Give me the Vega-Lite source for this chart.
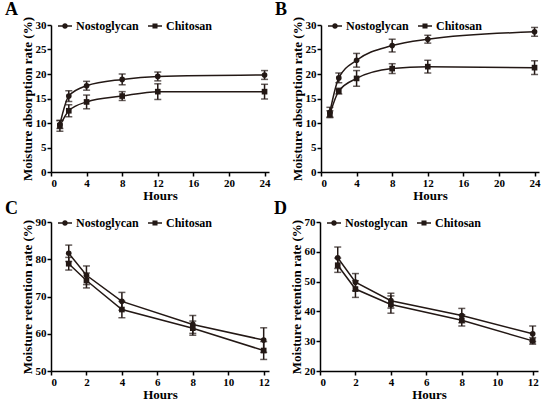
{
  "$schema": "https://vega.github.io/schema/vega-lite/v6.json",
  "background": "white",
  "padding": {"left": 4, "top": 1, "right": 2, "bottom": 2},
  "spacing": -2,
  "datasets": {
    "a": [
      {"hours": 1, "series": "Nostoglycan", "mean": 9.7, "err": 0.8},
      {"hours": 2, "series": "Nostoglycan", "mean": 15.5, "err": 1.1},
      {"hours": 4, "series": "Nostoglycan", "mean": 17.6, "err": 0.9},
      {"hours": 8, "series": "Nostoglycan", "mean": 18.9, "err": 1.1},
      {"hours": 12, "series": "Nostoglycan", "mean": 19.5, "err": 0.9},
      {"hours": 24, "series": "Nostoglycan", "mean": 19.8, "err": 0.9},
      {"hours": 1, "series": "Chitosan", "mean": 9.4, "err": 1.1},
      {"hours": 2, "series": "Chitosan", "mean": 12.5, "err": 1.2},
      {"hours": 4, "series": "Chitosan", "mean": 14.3, "err": 1.4},
      {"hours": 8, "series": "Chitosan", "mean": 15.5, "err": 0.9},
      {"hours": 12, "series": "Chitosan", "mean": 16.4, "err": 1.6},
      {"hours": 24, "series": "Chitosan", "mean": 16.4, "err": 1.5}
    ],
    "b": [
      {"hours": 1, "series": "Nostoglycan", "mean": 12.2, "err": 1.0},
      {"hours": 2, "series": "Nostoglycan", "mean": 19.2, "err": 1.0},
      {"hours": 4, "series": "Nostoglycan", "mean": 22.8, "err": 1.4},
      {"hours": 8, "series": "Nostoglycan", "mean": 25.8, "err": 1.3},
      {"hours": 12, "series": "Nostoglycan", "mean": 27.1, "err": 0.8},
      {"hours": 24, "series": "Nostoglycan", "mean": 28.6, "err": 0.9},
      {"hours": 1, "series": "Chitosan", "mean": 11.8, "err": 0.7},
      {"hours": 2, "series": "Chitosan", "mean": 16.5, "err": 0.6},
      {"hours": 4, "series": "Chitosan", "mean": 19.1, "err": 1.6},
      {"hours": 8, "series": "Chitosan", "mean": 21.1, "err": 1.0},
      {"hours": 12, "series": "Chitosan", "mean": 21.5, "err": 1.3},
      {"hours": 24, "series": "Chitosan", "mean": 21.3, "err": 1.4}
    ],
    "c": [
      {"hours": 1, "series": "Nostoglycan", "mean": 81.6, "err": 2.2},
      {"hours": 2, "series": "Nostoglycan", "mean": 75.7, "err": 2.5},
      {"hours": 4, "series": "Nostoglycan", "mean": 68.7, "err": 2.4},
      {"hours": 8, "series": "Nostoglycan", "mean": 62.5, "err": 2.4},
      {"hours": 12, "series": "Nostoglycan", "mean": 58.3, "err": 3.3},
      {"hours": 1, "series": "Chitosan", "mean": 78.8, "err": 1.7},
      {"hours": 2, "series": "Chitosan", "mean": 74.3, "err": 2.0},
      {"hours": 4, "series": "Chitosan", "mean": 66.5, "err": 2.2},
      {"hours": 8, "series": "Chitosan", "mean": 61.5, "err": 1.9},
      {"hours": 12, "series": "Chitosan", "mean": 55.5, "err": 2.4}
    ],
    "d": [
      {"hours": 1, "series": "Nostoglycan", "mean": 58.0, "err": 3.6},
      {"hours": 2, "series": "Nostoglycan", "mean": 49.8, "err": 2.9},
      {"hours": 4, "series": "Nostoglycan", "mean": 43.6, "err": 2.5},
      {"hours": 8, "series": "Nostoglycan", "mean": 38.6, "err": 2.4},
      {"hours": 12, "series": "Nostoglycan", "mean": 32.5, "err": 2.6},
      {"hours": 1, "series": "Chitosan", "mean": 55.5, "err": 2.4},
      {"hours": 2, "series": "Chitosan", "mean": 47.5, "err": 2.8},
      {"hours": 4, "series": "Chitosan", "mean": 42.3, "err": 2.9},
      {"hours": 8, "series": "Chitosan", "mean": 37.0, "err": 1.9},
      {"hours": 12, "series": "Chitosan", "mean": 30.1, "err": 1.1}
    ],
    "keys": [
      {"key": "Nostoglycan"},
      {"key": "Chitosan"}
    ]
  },
  "vconcat": [
    {
      "hconcat": [
        {
          "title": {"text": "A"},
          "width": 218,
          "height": 147,
          "data": {"name": "a"},
          "encoding": {
            "x": {"field": "hours", "type": "quantitative", "title": "Hours",
                  "scale": {"domain": [0, 24.5], "nice": false},
                  "axis": {"values": [0, 4, 8, 12, 16, 20, 24]}},
            "y": {"field": "mean", "type": "quantitative", "title": "Moisture absorption rate (%)",
                  "scale": {"domain": [0, 30], "nice": false},
                  "axis": {"values": [0, 5, 10, 15, 20, 25, 30]}}
          },
          "layer": [
            {"mark": {"type": "errorbar", "color": "#231815", "thickness": 1.5, "ticks": {"size": 7, "thickness": 1.5}},
             "encoding": {"yError": {"field": "err"}, "detail": {"field": "series"}}},
            {"mark": {"type": "line", "interpolate": "monotone", "color": "#231815", "strokeWidth": 1.5},
             "encoding": {"detail": {"field": "series"}}},
            {"mark": {"type": "point", "filled": true, "opacity": 1, "color": "#231815", "size": 32},
             "encoding": {"shape": {"field": "series", "scale": {"domain": ["Nostoglycan", "Chitosan"], "range": ["circle", "square"]}, "legend": null}}},
            {"data": {"name": "keys"},
             "mark": {"type": "point", "filled": true, "opacity": 1, "size": 0, "color": "#231815"},
             "encoding": {"x": null, "y": null,
                          "shape": {"field": "key", "scale": {"domain": ["Nostoglycan", "Chitosan"], "range": ["M-1,-0.09H1V0.09H-1ZM0.4,0A0.4,0.4,0,1,1,-0.4,0A0.4,0.4,0,1,1,0.4,0Z", "M-1,-0.09H1V0.09H-1ZM-0.36,-0.36H0.36V0.36H-0.36Z"]}}}}
          ],
          "resolve": {"scale": {"shape": "independent"}}
        },
        {
          "title": {"text": "B"},
          "width": 218,
          "height": 147,
          "data": {"name": "b"},
          "encoding": {
            "x": {"field": "hours", "type": "quantitative", "title": "Hours",
                  "scale": {"domain": [0, 24.5], "nice": false},
                  "axis": {"values": [0, 4, 8, 12, 16, 20, 24]}},
            "y": {"field": "mean", "type": "quantitative", "title": "Moisture absorption rate (%)",
                  "scale": {"domain": [0, 30], "nice": false},
                  "axis": {"values": [0, 5, 10, 15, 20, 25, 30]}}
          },
          "layer": [
            {"mark": {"type": "errorbar", "color": "#231815", "thickness": 1.5, "ticks": {"size": 7, "thickness": 1.5}},
             "encoding": {"yError": {"field": "err"}, "detail": {"field": "series"}}},
            {"mark": {"type": "line", "interpolate": "monotone", "color": "#231815", "strokeWidth": 1.5},
             "encoding": {"detail": {"field": "series"}}},
            {"mark": {"type": "point", "filled": true, "opacity": 1, "color": "#231815", "size": 32},
             "encoding": {"shape": {"field": "series", "scale": {"domain": ["Nostoglycan", "Chitosan"], "range": ["circle", "square"]}, "legend": null}}},
            {"data": {"name": "keys"},
             "mark": {"type": "point", "filled": true, "opacity": 1, "size": 0, "color": "#231815"},
             "encoding": {"x": null, "y": null,
                          "shape": {"field": "key", "scale": {"domain": ["Nostoglycan", "Chitosan"], "range": ["M-1,-0.09H1V0.09H-1ZM0.4,0A0.4,0.4,0,1,1,-0.4,0A0.4,0.4,0,1,1,0.4,0Z", "M-1,-0.09H1V0.09H-1ZM-0.36,-0.36H0.36V0.36H-0.36Z"]}}}}
          ],
          "resolve": {"scale": {"shape": "independent"}}
        }
      ]
    },
    {
      "hconcat": [
        {
          "title": {"text": "C"},
          "width": 218,
          "height": 149,
          "data": {"name": "c"},
          "encoding": {
            "x": {"field": "hours", "type": "quantitative", "title": "Hours",
                  "scale": {"domain": [0, 12.3], "nice": false},
                  "axis": {"values": [0, 2, 4, 6, 8, 10, 12]}},
            "y": {"field": "mean", "type": "quantitative", "title": "Moisture retention rate (%)",
                  "scale": {"domain": [50, 90], "nice": false, "zero": false},
                  "axis": {"values": [50, 60, 70, 80, 90]}}
          },
          "layer": [
            {"mark": {"type": "errorbar", "color": "#231815", "thickness": 1.5, "ticks": {"size": 7, "thickness": 1.5}},
             "encoding": {"yError": {"field": "err"}, "detail": {"field": "series"}}},
            {"mark": {"type": "line", "color": "#231815", "strokeWidth": 1.5},
             "encoding": {"detail": {"field": "series"}}},
            {"mark": {"type": "point", "filled": true, "opacity": 1, "color": "#231815", "size": 32},
             "encoding": {"shape": {"field": "series", "scale": {"domain": ["Nostoglycan", "Chitosan"], "range": ["circle", "square"]}, "legend": null}}},
            {"data": {"name": "keys"},
             "mark": {"type": "point", "filled": true, "opacity": 1, "size": 0, "color": "#231815"},
             "encoding": {"x": null, "y": null,
                          "shape": {"field": "key", "scale": {"domain": ["Nostoglycan", "Chitosan"], "range": ["M-1,-0.09H1V0.09H-1ZM0.4,0A0.4,0.4,0,1,1,-0.4,0A0.4,0.4,0,1,1,0.4,0Z", "M-1,-0.09H1V0.09H-1ZM-0.36,-0.36H0.36V0.36H-0.36Z"]}}}}
          ],
          "resolve": {"scale": {"shape": "independent"}}
        },
        {
          "title": {"text": "D"},
          "width": 218,
          "height": 149,
          "data": {"name": "d"},
          "encoding": {
            "x": {"field": "hours", "type": "quantitative", "title": "Hours",
                  "scale": {"domain": [0, 12.3], "nice": false},
                  "axis": {"values": [0, 2, 4, 6, 8, 10, 12]}},
            "y": {"field": "mean", "type": "quantitative", "title": "Moisture retention rate (%)",
                  "scale": {"domain": [20, 70], "nice": false, "zero": false},
                  "axis": {"values": [20, 30, 40, 50, 60, 70]}}
          },
          "layer": [
            {"mark": {"type": "errorbar", "color": "#231815", "thickness": 1.5, "ticks": {"size": 7, "thickness": 1.5}},
             "encoding": {"yError": {"field": "err"}, "detail": {"field": "series"}}},
            {"mark": {"type": "line", "color": "#231815", "strokeWidth": 1.5},
             "encoding": {"detail": {"field": "series"}}},
            {"mark": {"type": "point", "filled": true, "opacity": 1, "color": "#231815", "size": 32},
             "encoding": {"shape": {"field": "series", "scale": {"domain": ["Nostoglycan", "Chitosan"], "range": ["circle", "square"]}, "legend": null}}},
            {"data": {"name": "keys"},
             "mark": {"type": "point", "filled": true, "opacity": 1, "size": 0, "color": "#231815"},
             "encoding": {"x": null, "y": null,
                          "shape": {"field": "key", "scale": {"domain": ["Nostoglycan", "Chitosan"], "range": ["M-1,-0.09H1V0.09H-1ZM0.4,0A0.4,0.4,0,1,1,-0.4,0A0.4,0.4,0,1,1,0.4,0Z", "M-1,-0.09H1V0.09H-1ZM-0.36,-0.36H0.36V0.36H-0.36Z"]}}}}
          ],
          "resolve": {"scale": {"shape": "independent"}}
        }
      ]
    }
  ],
  "config": {
    "font": "Liberation Serif",
    "view": {"stroke": null},
    "concat": {"spacing": 3},
    "title": {"font": "Liberation Serif", "fontSize": 18, "fontWeight": "bold", "color": "#000000",
              "anchor": "start", "frame": "bounds", "offset": -3, "dx": -16},
    "axis": {
      "grid": false,
      "domainColor": "#000000", "domainWidth": 1.5,
      "tickColor": "#000000", "tickWidth": 1.5, "tickSize": 4,
      "labelFont": "Liberation Serif", "labelFontSize": 11, "labelFontWeight": "bold", "labelColor": "#000000",
      "titleFont": "Liberation Serif", "titleFontSize": 13, "titleFontWeight": "bold", "titleColor": "#000000",
      "labelPadding": 1, "titlePadding": 1
    },
    "legend": {
      "orient": "none", "legendX": 6, "legendY": -7, "direction": "horizontal",
      "title": null, "labelFont": "Liberation Serif", "labelFontSize": 12, "labelFontWeight": "bold",
      "labelColor": "#000000", "symbolSize": 196,
      "symbolFillColor": "#231815", "columnPadding": 6, "labelOffset": 3
    }
  }
}
